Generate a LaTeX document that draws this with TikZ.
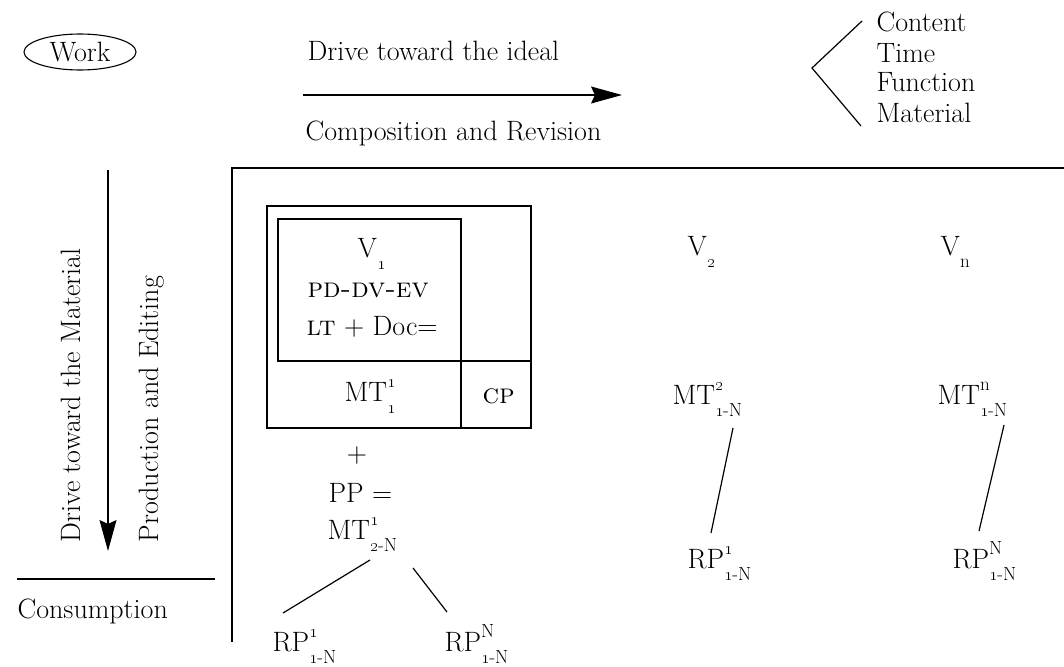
\documentclass[tikz,border=0pt]{standalone}
\usetikzlibrary{arrows.meta,shapes.geometric}
\newcommand\mainsz{\fontsize{28}{30}\selectfont}
\newcommand\smsz{\fontsize{19}{19}\selectfont}
\newcommand\SupSub[2]{\makebox[0pt][l]{\raisebox{0.5em}{\smsz #1}}\raisebox{-0.43em}{\smsz #2}}
\newcommand\SubOnly[1]{\raisebox{-0.45em}{\smsz #1}}
\newcommand\osn[1]{\oldstylenums{#1}}
\begin{document}
\begin{tikzpicture}[x=1pt,y=-1pt,line width=1.2pt,
  txt/.style={inner sep=0pt,anchor=base west,font=\mainsz},
  arr/.style={-{Stealth[length=31pt,width=17pt,inset=4pt]}},
  conn/.style={line width=1.2pt}]
\useasboundingbox (0,0) rectangle (1064,666);

% top row
\node[ellipse,draw,line width=1.1pt,minimum width=112pt,minimum height=36pt,inner sep=0pt,font=\mainsz] (work) at (80,52) {Work};
\node[txt] (ideal) at (307,61) {Drive toward the ideal};
\coordinate (ha) at (303,95);
\coordinate (hb) at (622,95);
\draw[arr] (ha) -- (hb);
\node[txt] (comp) at (305,140) {Composition and Revision};

\coordinate (cht) at (862,21);
\coordinate (chm) at (812,68);
\coordinate (chb) at (861,126);
\draw[conn] (cht) -- (chm) -- (chb);
\node[txt] (content) at (876,32) {Content};
\node[txt] (time) at (876,63) {Time};
\node[txt] (function) at (876,92) {Function};
\node[txt] (material) at (876,122) {Material};

% frame
\coordinate (fr) at (1064,168);
\coordinate (fc) at (232,168);
\coordinate (fb) at (232,642);
\draw[conn] (fr) -- (fc) -- (fb);

% left column
\coordinate (va) at (108,170);
\coordinate (vb) at (108,551);
\draw[arr] (va) -- (vb);
\node[txt,rotate=90] (drivemat) at (80,543) {Drive toward the Material};
\node[txt,rotate=90] (prod) at (158,543) {Production and Editing};
\coordinate (cla) at (17,579);
\coordinate (clb) at (215,579);
\draw[conn] (cla) -- (clb);
\node[txt] (cons) at (17,618) {Consumption};

% version 1 box
\draw[conn] (267,206) rectangle (531,428);
\draw[conn] (278,219) rectangle (461,361);
\draw[conn] (461,361) -- (531,361);
\draw[conn] (461,361) -- (461,428);
\node[txt] (v1) at (357,257) {V\SubOnly{\osn{1}}};
\node[txt] (pd) at (307,297) {\textsc{pd-dv-ev}};
\node[txt] (lt) at (306,335) {\textsc{lt} + Doc=};
\node[txt] (mt11) at (344,401) {MT\SupSub{\osn{1}}{\osn{1}}};
\node[txt] (cp) at (482,403) {\textsc{cp}};

\node[txt,anchor=base] (plus) at (357,462) {+};
\node[txt] (pp) at (328,502) {PP =};
\node[txt] (mt12) at (327,539) {MT\SupSub{\osn{1}}{\osn{2}-N}};
\node[txt] (rpa) at (272,651) {RP\SupSub{\osn{1}}{\osn{1}-N}};
\node[txt] (rpb) at (444,651) {RP\SupSub{N}{\osn{1}-N}};
\coordinate (la1) at (370,560);
\coordinate (la2) at (283,613);
\coordinate (lb1) at (413,568);
\coordinate (lb2) at (447,612);
\draw[conn] (la1) -- (la2);
\draw[conn] (lb1) -- (lb2);

% version 2 and n
\node[txt] (v2) at (687,255) {V\SubOnly{\osn{2}}};
\node[txt] (vn) at (940,255) {V\SubOnly{n}};
\node[txt] (mt2) at (672,404) {MT\SupSub{\osn{2}}{\osn{1}-N}};
\node[txt] (mtn) at (937,404) {MT\SupSub{n}{\osn{1}-N}};
\node[txt] (rp2) at (687,568) {RP\SupSub{\osn{1}}{\osn{1}-N}};
\node[txt] (rpn) at (952,568) {RP\SupSub{N}{\osn{1}-N}};
\coordinate (l21) at (733,428);
\coordinate (l22) at (711,533);
\coordinate (ln1) at (1004,425);
\coordinate (ln2) at (979,531);
\draw[conn] (l21) -- (l22);
\draw[conn] (ln1) -- (ln2);
\end{tikzpicture}
\end{document}
